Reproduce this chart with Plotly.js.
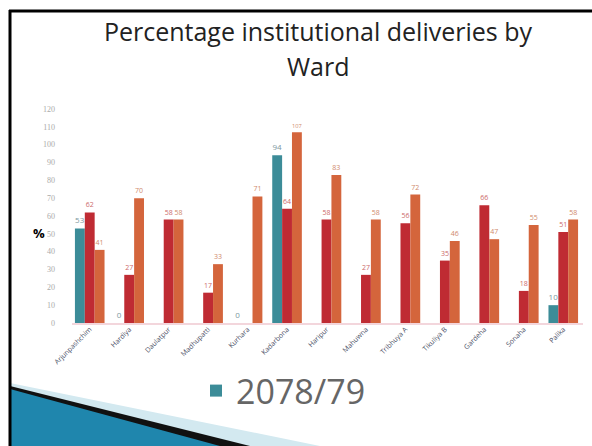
<!DOCTYPE html>
<html>
<head>
<meta charset="utf-8">
<script src="https://cdn.plot.ly/plotly-3.0.1.min.js"></script>
<style>html,body{margin:0;padding:0;background:#fff;}#chart{width:592px;height:446px;}</style>
</head>
<body>
<div id="chart"></div>
<script>
const wards = ["Arjunpashchim","Hardiya","Daulatpur","Madhupatti","Kurhara","Kadarbona","Haripur","Mahuwna","Tribhuya A","Tikuliya B","Gardeha","Sonaha","Palika"];
const y2078 = [53, 0, null, null, 0, 94, null, null, null, null, null, null, 10];
const y2079 = [62, 27, 58, 17, null, 64, 58, 27, 56, 35, 66, 18, 51];
const y2080 = [41, 70, 58, 33, 71, 107, 83, 58, 72, 46, 47, 55, 58];
const yTicks = [0,10,20,30,40,50,60,70,80,90,100,110,120];

const W = 592, H = 446, L = 70, R = 9, T = 109, B = 123;
const pw = W - L - R, ph = H - T - B;
const px = x => (x - L) / pw;
const py = y => (H - B - y) / ph;
function poly(pts){ return 'M' + pts.map(p => px(p[0]).toFixed(4) + ',' + py(p[1]).toFixed(4)).join(' L') + ' Z'; }

function lbl(a){ return a.map(v => v === null ? '' : String(v)); }

const traces = [
  {type:'bar', name:'2078/79', x:wards, y:y2078, marker:{color:'#3c8c98'}, text:lbl(y2078), textposition:'outside', textfont:{size:8,color:'#7d98a0'}, cliponaxis:false, showlegend:true},
  {type:'bar', name:'2079/80', x:wards, y:y2079, marker:{color:'#bf2b33'}, text:lbl(y2079), textposition:'outside', textfont:{size:7,color:'#cc6a6a'}, cliponaxis:false, showlegend:false},
  {type:'bar', name:'2080/81', x:wards, y:y2080, marker:{color:'#d4653c'}, text:lbl(y2080), textposition:'outside', textfont:{size:7,color:'#cf8a6c'}, cliponaxis:false, showlegend:false}
];

const shapes = [
  {type:'path', xref:'paper', yref:'paper', path:poly([[10,383],[320,446],[10,446]]), fillcolor:'#d3e9f0', line:{width:0}, layer:'below'},
  {type:'path', xref:'paper', yref:'paper', path:poly([[10,386],[250,446],[10,446]]), fillcolor:'#111111', line:{width:0}, layer:'below'},
  {type:'path', xref:'paper', yref:'paper', path:poly([[10,389],[220,446],[10,446]]), fillcolor:'#1f86ad', line:{width:0}, layer:'below'},
  {type:'line', xref:'paper', yref:'paper', x0:px(10), x1:px(10), y0:py(10), y1:py(446), line:{color:'#000', width:3}},
  {type:'line', xref:'paper', yref:'paper', x0:px(9), x1:px(592), y0:py(11), y1:py(11), line:{color:'#000', width:3}},
  {type:'line', xref:'paper', yref:'paper', x0:px(72), x1:px(583), y0:py(324), y1:py(324), line:{color:'#f3d6dc', width:2}, layer:'below'}
];

const titleFont = {family:'Open Sans, sans-serif', size:25, color:'#222'};

const layout = {
  width:W, height:H,
  margin:{l:L, r:R, t:T, b:B},
  paper_bgcolor:'#fff', plot_bgcolor:'#fff',
  font:{family:'Open Sans, sans-serif'},
  title:{text:'Percentage institutional deliveries by', font:titleFont, x:318/W, xref:'container', xanchor:'center', y:1-32/H, yref:'container', yanchor:'middle'},
  barmode:'group', bargap:0.25, bargroupgap:0,
  xaxis:{type:'category', tickangle:-45, tickfont:{size:7, color:'#4a4f66'}, showgrid:false, zeroline:false, showline:false, ticks:''},
  yaxis:{range:[0,120], tickvals:yTicks, ticktext:yTicks.map(String), tickfont:{family:'Liberation Serif, serif', size:8, color:'#aaaaaa'}, showgrid:false, zeroline:false, showline:false, ticks:'', ticklabelstandoff:14},
  showlegend:true,
  legend:{x:px(196), y:py(391), xanchor:'left', yanchor:'middle', font:{size:34, color:'#666'}, bgcolor:'rgba(0,0,0,0)', itemwidth:30},
  annotations:[
    {text:'<b>%</b>', xref:'paper', yref:'paper', x:px(31), y:py(233), showarrow:false, font:{size:13, color:'#000'}},
    {text:'Ward', xref:'paper', yref:'paper', x:px(318), y:py(66), xanchor:'center', yanchor:'middle', showarrow:false, font:titleFont}
  ],
  shapes:shapes
};

Plotly.newPlot('chart', traces, layout, {displayModeBar:false, staticPlot:true});
</script>
</body>
</html>
